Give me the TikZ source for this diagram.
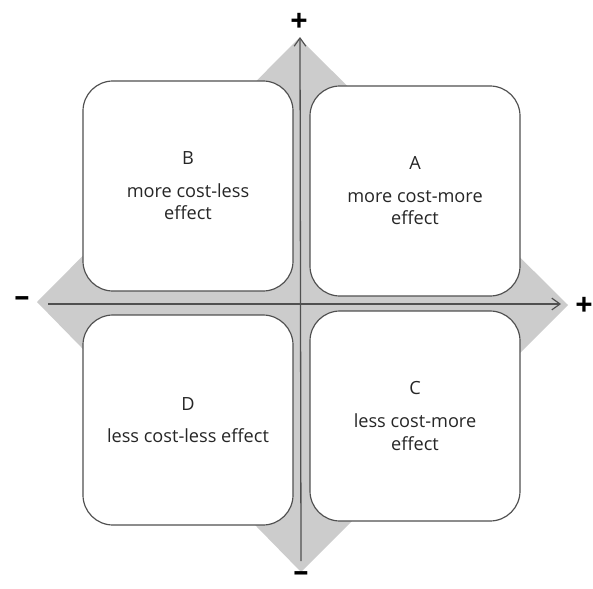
\documentclass[tikz,border=0pt]{standalone}
\usepackage{fontspec}
\setmainfont{Open Sans}
\usepackage{tikz}
\usetikzlibrary{arrows.meta}
\definecolor{diamondgray}{RGB}{204,204,204}
\definecolor{linegray}{RGB}{80,80,80}
\tikzstyle{quadrant} = [draw=linegray, line width=1pt, fill=white, rounded corners=0.9cm,
  minimum width=6.3cm, minimum height=6.3cm, align=center, text=black!85,
  font=\fontsize{15.5}{19.5}\selectfont]
\tikzstyle{axis} = [draw=linegray, line width=1.1pt, -{Straight Barb[length=7pt, width=10pt, line width=1pt]}]
\tikzstyle{sign} = [font=\fontsize{26}{26}\selectfont\bfseries, inner sep=0pt]

\begin{document}
\begin{tikzpicture}[x=0.03cm, y=-0.03cm]
\useasboundingbox (0, 0) rectangle (593, 588);
%% diamond behind
\fill[diamondgray] (299, 38) -- (568, 305) -- (301, 572) -- (37, 302) -- cycle;

%% quadrants
\node[quadrant] (B) at (188, 186) {B\\[8pt]more cost-less\\effect};
\node[quadrant] (A) at (415, 191) {A\\[8pt]more cost-more\\effect};
\node[quadrant] (D) at (188, 420) {D\\[8pt]less cost-less effect};
\node[quadrant] (C) at (415, 416) {C\\[8pt]less cost-more\\effect};

%% axes
\coordinate (xstart) at (48, 304);
\coordinate (xend) at (561, 304);
\coordinate (ystart) at (301, 561);
\coordinate (yend) at (300, 37);
\draw[axis] (xstart) -- (xend);
\draw[axis] (ystart) -- (yend);

%% signs
\node[sign] (yplus) at (299, 22) {+};
\node[sign] (xplus) at (584, 306) {+};
\node[sign] (xminus) at (22, 302) {\textendash};
\node[sign] (yminus) at (301, 577) {\textendash};
\end{tikzpicture}
\end{document}
